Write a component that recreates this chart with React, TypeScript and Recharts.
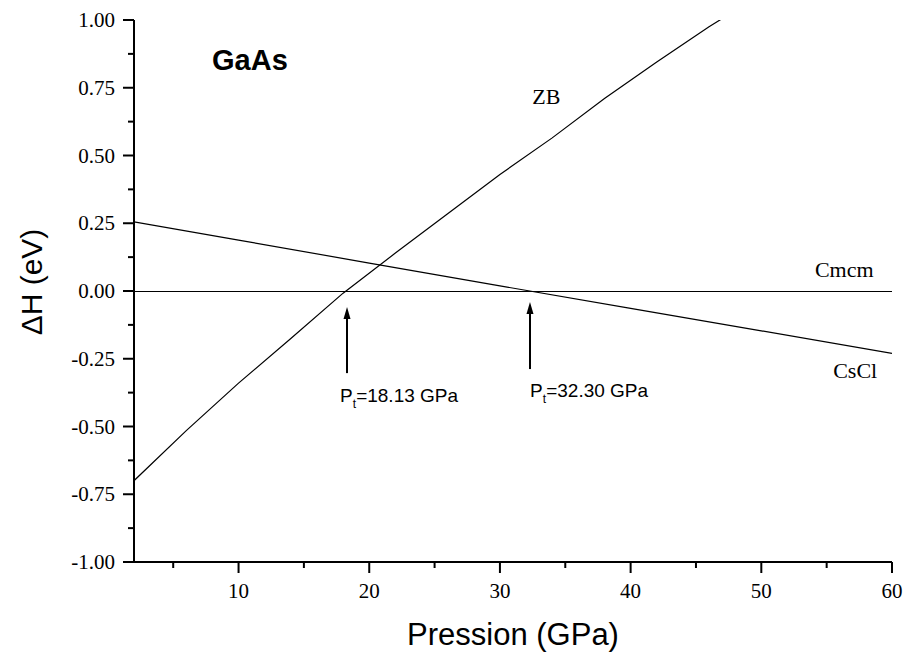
import React from 'react';
import { LineChart, Line, XAxis, YAxis, ReferenceLine, ReferenceDot } from 'recharts';

// pressure (GPa) and enthalpy difference (eV)
const ZB_P = [2, 6, 10, 14, 18, 22, 26, 30, 34, 38, 42, 46, 47];
const ZB_H = [-0.7, -0.515, -0.34, -0.175, -0.008, 0.14, 0.285, 0.43, 0.565, 0.71, 0.845, 0.975, 1.005];
const CSCL_P = [2, 10, 20, 30, 40, 50, 60];
const CSCL_H = [0.255, 0.188, 0.103, 0.019, -0.064, -0.147, -0.23];
const CMCM_P = [2, 60];
const CMCM_H = [0, 0];

const X_TICKS = [5, 10, 15, 20, 25, 30, 35, 40, 45, 50, 55, 60];
const Y_TICKS = [-1, -0.875, -0.75, -0.625, -0.5, -0.375, -0.25, -0.125, 0, 0.125, 0.25, 0.375, 0.5, 0.625, 0.75, 0.875, 1];

// transition pressures and arrow extents
const PT_P = [18.3, 32.3];
const PT_LABELS = ['18.13', '32.30'];
const ARROW_TIP = [-0.059, -0.041];
const ARROW_BASE = [-0.303, -0.288];

const zb = ZB_P.map((p, i) => ({ p, h: ZB_H[i] }));
const cscl = CSCL_P.map((p, i) => ({ p, h: CSCL_H[i] }));
const cmcm = CMCM_P.map((p, i) => ({ p, h: CMCM_H[i] }));

const SERIF = "'Liberation Serif', 'Times New Roman', serif";
const SANS = "'Liberation Sans', Arial, sans-serif";

const isMajorY = (v: number) => Math.abs(v * 4 - Math.round(v * 4)) < 1e-6;
const isMajorX = (v: number) => v % 10 === 0;

const LeftTick = ({ x, y, payload }: any) => {
  const major = isMajorY(payload.value);
  return (
    <g>
      <line x1={x} x2={x - (major ? 11 : 6)} y1={y} y2={y} stroke="#000" strokeWidth={2} />
      {major && (
        <text x={x - 19} y={y + 7} textAnchor="end" fontFamily={SERIF} fontSize={21} fill="#000">
          {payload.value.toFixed(2)}
        </text>
      )}
    </g>
  );
};

const BottomTick = ({ x, y, payload }: any) => {
  const major = isMajorX(payload.value);
  return (
    <g>
      <line x1={x} x2={x} y1={y} y2={y + (major ? 11 : 6)} stroke="#000" strokeWidth={2} />
      {major && (
        <text x={x} y={y + 36} textAnchor="middle" fontFamily={SERIF} fontSize={21} fill="#000">
          {payload.value}
        </text>
      )}
    </g>
  );
};

const TopTick = ({ x, y }: any) => <line x1={x} x2={x} y1={y} y2={y + 3} stroke="#000" strokeWidth={1} />;
const RightTick = ({ x, y }: any) => <line x1={x} x2={x - 3} y1={y} y2={y} stroke="#000" strokeWidth={1} />;

const Arrow = (props: any) => {
  const { x1, y1, y2 } = props;
  const top = Math.min(y1, y2);
  const bottom = Math.max(y1, y2);
  return (
    <g>
      <line x1={x1} x2={x1} y1={bottom} y2={top + 8} stroke="#000" strokeWidth={2} />
      <polygon points={`${x1},${top} ${x1 - 3.5},${top + 12} ${x1 + 3.5},${top + 12}`} fill="#000" />
    </g>
  );
};

const note = (text: string, font: string, size: number, bold = false) => (p: any) => (
  <text x={p.cx} y={p.cy} fontFamily={font} fontSize={size} fontWeight={bold ? 'bold' : 'normal'} fill="#000">
    {text}
  </text>
);

const ptNote = (value: string) => (p: any) => (
  <text x={p.cx} y={p.cy} fontFamily={SANS} fontSize={19} fill="#000">
    P
    <tspan dy={6} fontSize={12}>t</tspan>
    <tspan dy={-6}>={value} GPa</tspan>
  </text>
);

const axisLine = { stroke: '#000', strokeWidth: 2 };

export default function App() {
  return (
    <div style={{ position: 'absolute', left: 0, top: 0, background: '#fff' }}>
      <LineChart width={907} height={654} margin={{ top: 20, right: 15, bottom: 0, left: 0 }}>
        <XAxis
          dataKey="p"
          type="number"
          domain={[2, 60]}
          allowDataOverflow
          ticks={X_TICKS}
          interval={0}
          height={92}
          tickSize={0}
          tickMargin={0}
          tickLine={false}
          axisLine={axisLine}
          tick={<BottomTick />}
          label={{
            content: ({ viewBox }: any) => (
              <text x={viewBox.x + viewBox.width / 2} y={viewBox.y + 83} textAnchor="middle" fontFamily={SANS} fontSize={31} fill="#000">
                Pression (GPa)
              </text>
            ),
          }}
        />
        <XAxis
          xAxisId="top"
          orientation="top"
          type="number"
          domain={[2, 60]}
          allowDataOverflow
          ticks={X_TICKS}
          interval={0}
          height={0}
          tickSize={0}
          tickMargin={0}
          tickLine={false}
          axisLine={axisLine}
          tick={<TopTick />}
        />
        <YAxis
          type="number"
          domain={[-1, 1]}
          allowDataOverflow
          ticks={Y_TICKS}
          interval={0}
          width={134}
          tickSize={0}
          tickMargin={0}
          tickLine={false}
          axisLine={axisLine}
          tick={<LeftTick />}
          label={{
            content: ({ viewBox }: any) => {
              const cx = 41.5;
              const cy = viewBox.y + viewBox.height / 2 - 9;
              return (
                <text x={cx} y={cy} transform={`rotate(-90, ${cx}, ${cy})`} textAnchor="middle" fontFamily={SANS} fontSize={30} fill="#000">
                  ΔH (eV)
                </text>
              );
            },
          }}
        />
        <YAxis
          yAxisId="right"
          orientation="right"
          type="number"
          domain={[-1, 1]}
          allowDataOverflow
          ticks={Y_TICKS}
          interval={0}
          width={0}
          tickSize={0}
          tickMargin={0}
          tickLine={false}
          axisLine={axisLine}
          tick={<RightTick />}
        />

        <Line data={cmcm} dataKey="h" type="linear" dot={false} stroke="#000" strokeWidth={1} shapeRendering="crispEdges" isAnimationActive={false} />
        <Line data={cscl} dataKey="h" type="linear" dot={false} stroke="#000" strokeWidth={1.2} isAnimationActive={false} />
        <Line data={zb} dataKey="h" type="linear" dot={false} stroke="#000" strokeWidth={1.2} isAnimationActive={false} />

        {PT_P.map((p, i) => (
          <ReferenceLine
            key={`arrow-${i}`}
            segment={[{ x: p, y: ARROW_BASE[i] }, { x: p, y: ARROW_TIP[i] }]}
            shape={Arrow}
          />
        ))}

        <ReferenceDot x={7.97} y={0.815} r={0} shape={note('GaAs', SANS, 29, true)} />
        <ReferenceDot x={32.47} y={0.69} r={0} shape={note('ZB', SERIF, 22)} />
        <ReferenceDot x={54.1} y={0.052} r={0} shape={note('Cmcm', SERIF, 22)} />
        <ReferenceDot x={55.5} y={-0.321} r={0} shape={note('CsCl', SERIF, 22)} />
        <ReferenceDot x={17.77} y={-0.41} r={0} shape={ptNote(PT_LABELS[0])} />
        <ReferenceDot x={32.31} y={-0.391} r={0} shape={ptNote(PT_LABELS[1])} />
      </LineChart>
    </div>
  );
}
